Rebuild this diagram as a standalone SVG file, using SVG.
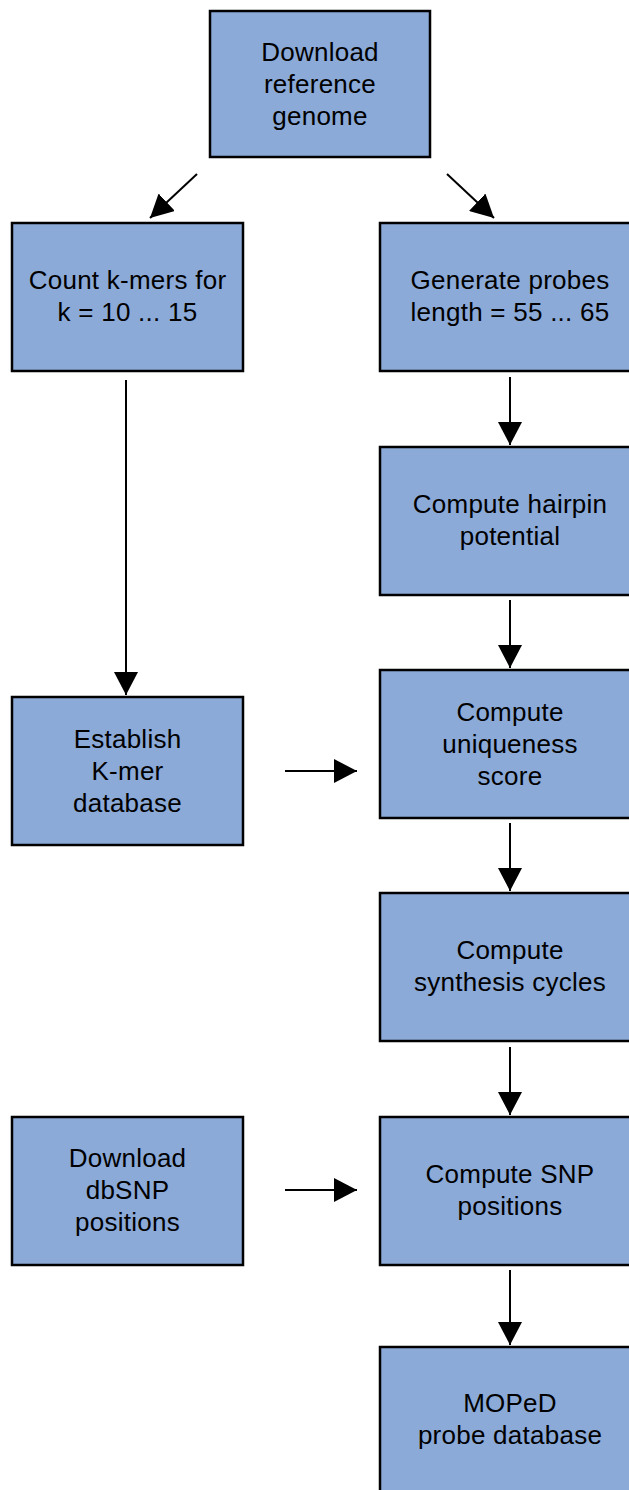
<svg xmlns="http://www.w3.org/2000/svg" width="629" height="1490" viewBox="0 0 629 1490">
<style>
.box{fill:#8BAAD8;stroke:#000;stroke-width:2.5}
.t{font-family:"Liberation Sans",Arial,sans-serif;font-size:26px;letter-spacing:0.25px;fill:#000;text-anchor:middle}
.c{stroke:#000;stroke-width:2;fill:none;marker-end:url(#ah)}
</style>
<defs>
<marker id="ah" markerUnits="userSpaceOnUse" markerWidth="24" markerHeight="24" refX="23" refY="12" orient="auto">
<path d="M0,0 L23,12 L0,24 z" fill="#000"/>
</marker>
</defs>
<rect width="629" height="1490" fill="#fff"/>
<g id="n-download-ref">
<rect class="box" x="210" y="11" width="220" height="146"/>
<text class="t" x="320" y="61">Download</text>
<text class="t" x="320" y="93">reference</text>
<text class="t" x="320" y="125">genome</text>
</g>
<g id="n-count-kmers">
<rect class="box" x="12" y="223" width="231" height="148"/>
<text class="t" x="127.5" y="289">Count k-mers for</text>
<text class="t" x="127.5" y="321">k = 10 ... 15</text>
</g>
<g id="n-generate-probes">
<rect class="box" x="380" y="223" width="260" height="148"/>
<text class="t" x="510" y="289">Generate probes</text>
<text class="t" x="510" y="321">length = 55 ... 65</text>
</g>
<g id="n-hairpin">
<rect class="box" x="380" y="447" width="260" height="148"/>
<text class="t" x="510" y="513">Compute hairpin</text>
<text class="t" x="510" y="545">potential</text>
</g>
<g id="n-uniqueness">
<rect class="box" x="380" y="670" width="260" height="148"/>
<text class="t" x="510" y="721">Compute</text>
<text class="t" x="510" y="753">uniqueness</text>
<text class="t" x="510" y="785">score</text>
</g>
<g id="n-establish">
<rect class="box" x="12" y="697" width="231" height="148"/>
<text class="t" x="127.5" y="748">Establish</text>
<text class="t" x="127.5" y="780">K-mer</text>
<text class="t" x="127.5" y="812">database</text>
</g>
<g id="n-synthesis">
<rect class="box" x="380" y="893" width="260" height="148"/>
<text class="t" x="510" y="959">Compute</text>
<text class="t" x="510" y="991">synthesis cycles</text>
</g>
<g id="n-dbsnp">
<rect class="box" x="12" y="1117" width="231" height="148"/>
<text class="t" x="127.5" y="1167">Download</text>
<text class="t" x="127.5" y="1199">dbSNP</text>
<text class="t" x="127.5" y="1231">positions</text>
</g>
<g id="n-snp">
<rect class="box" x="380" y="1117" width="260" height="148"/>
<text class="t" x="510" y="1183">Compute SNP</text>
<text class="t" x="510" y="1215">positions</text>
</g>
<g id="n-moped">
<rect class="box" x="380" y="1347" width="260" height="150"/>
<text class="t" x="510" y="1412">MOPeD</text>
<text class="t" x="510" y="1444">probe database</text>
</g>
<g id="connectors">
<line class="c" x1="197" y1="174" x2="150" y2="218"/>
<line class="c" x1="447" y1="174" x2="494" y2="218"/>
<line class="c" x1="126" y1="380" x2="126" y2="695"/>
<line class="c" x1="510" y1="377" x2="510" y2="445"/>
<line class="c" x1="510" y1="600" x2="510" y2="668"/>
<line class="c" x1="510" y1="823" x2="510" y2="891"/>
<line class="c" x1="510" y1="1047" x2="510" y2="1115"/>
<line class="c" x1="510" y1="1270" x2="510" y2="1345"/>
<line class="c" x1="285" y1="771" x2="357" y2="771"/>
<line class="c" x1="285" y1="1190" x2="357" y2="1190"/>
</g>
</svg>
